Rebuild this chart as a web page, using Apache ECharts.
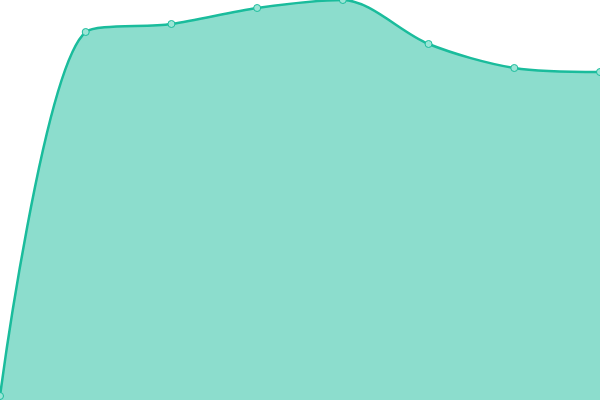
<!DOCTYPE html>
<html>
<head>
<meta charset="utf-8">
<script src="https://cdn.jsdelivr.net/npm/echarts@6/dist/echarts.min.js"></script>
<style>
  html, body { margin: 0; padding: 0; background: #fff; }
  #main { width: 600px; height: 400px; }
</style>
</head>
<body>
<div id="main"></div>
<script>
var categories = ['1', '2', '3', '4', '5', '6', '7', '8'];
var values = [1, 92, 94, 98, 100, 89, 83, 82];

var chart = echarts.init(document.getElementById('main'));

var option = {
  animation: false,
  grid: { left: 0, right: 0, top: 0, bottom: 0 },
  xAxis: {
    type: 'category',
    boundaryGap: false,
    data: categories,
    show: false
  },
  yAxis: {
    type: 'value',
    min: 0,
    max: 100,
    show: false
  },
  series: [
    {
      type: 'line',
      smooth: 0.3,
      data: values,
      symbol: 'circle',
      symbolSize: 7,
      itemStyle: {
        color: '#9be5d6',
        borderColor: '#1abc9c',
        borderWidth: 1
      },
      lineStyle: {
        color: '#1abc9c',
        width: 2.5
      },
      areaStyle: {
        color: '#1abc9c',
        opacity: 0.5
      }
    }
  ]
};
chart.setOption(option);
</script>
</body>
</html>
